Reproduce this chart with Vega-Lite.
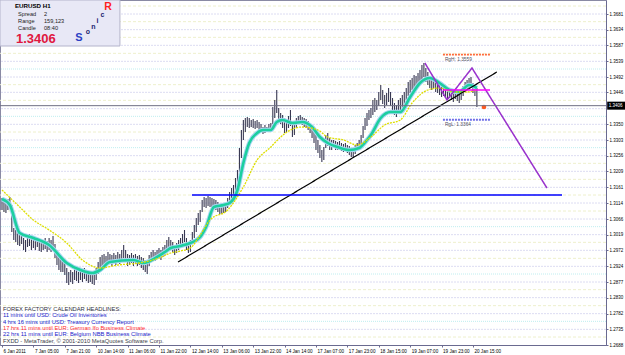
{
"$schema":"https://vega.github.io/schema/vega-lite/v6.json",
"width":606,"height":345,
"autosize":{"type":"none"},
"padding":{"left":0,"top":0,"right":19,"bottom":10},
"background":"white",
"config":{"view":{"stroke":"#8a8aa4","strokeWidth":1},"font":"Liberation Sans",
 "axisY":{"orient":"right","title":null,"grid":false,"labelFontSize":4.5,"labelColor":"#000000","labelPadding":1,"tickSize":2,"tickColor":"#6a6a90","domainColor":"#6a6a90","labelAlign":"left","labelBaseline":"middle","labelFlush":false,"labelOverlap":false},
 "axisX":{"title":null,"grid":false,"labelFontSize":4.6,"labelColor":"#000000","labelAlign":"left","labelPadding":1,"labelOffset":1,"tickSize":2,"tickColor":"#6a6a90","domainColor":"#6a6a90","labelFlush":false,"labelOverlap":false}},
"resolve":{"scale":{"color":"independent","strokeDash":"independent","strokeWidth":"independent"}},
"datasets":{
"grid":[
{"p":1.3705,"k":"b"},{"p":1.3681,"k":"a"},{"p":1.3658,"k":"b"},{"p":1.3634,"k":"a"},{"p":1.3611,"k":"b"},{"p":1.3587,"k":"a"},{"p":1.3563,"k":"b"},{"p":1.3539,"k":"a"},{"p":1.3516,"k":"c"},{"p":1.3492,"k":"a"},{"p":1.3469,"k":"b"},{"p":1.3446,"k":"a"},{"p":1.3422,"k":"b"},{"p":1.3397,"k":"a"},{"p":1.3374,"k":"c"},{"p":1.3350,"k":"a"},{"p":1.3327,"k":"b"},{"p":1.3303,"k":"a"},{"p":1.3280,"k":"c"},{"p":1.3256,"k":"a"},{"p":1.3233,"k":"b"},{"p":1.3209,"k":"a"},{"p":1.3185,"k":"b"},{"p":1.3161,"k":"a"},{"p":1.3138,"k":"b"},{"p":1.3114,"k":"a"},{"p":1.3090,"k":"b"},{"p":1.3066,"k":"a"},{"p":1.3043,"k":"c"},{"p":1.3019,"k":"a"},{"p":1.2996,"k":"b"},{"p":1.2972,"k":"a"},{"p":1.2948,"k":"b"},{"p":1.2924,"k":"a"},{"p":1.2901,"k":"c"},{"p":1.2877,"k":"a"},{"p":1.2854,"k":"b"},{"p":1.2830,"k":"a"},{"p":1.2806,"k":"b"},{"p":1.2782,"k":"a"},{"p":1.2759,"k":"c"},{"p":1.2735,"k":"a"},{"p":1.2712,"k":"b"}
],
"bars":[
{"i":0,"p":1.3129,"p2":1.3093},{"i":1,"p":1.3123,"p2":1.3087},{"i":2,"p":1.3117,"p2":1.3084},{"i":3,"p":1.3126,"p2":1.3093},{"i":4,"p":1.3132,"p2":1.3099},{"i":5,"p":1.3108,"p2":1.3027},{"i":6,"p":1.3039,"p2":1.3003},{"i":7,"p":1.3033,"p2":1.2997},{"i":8,"p":1.3027,"p2":1.2988},{"i":9,"p":1.3018,"p2":1.2985},
{"i":10,"p":1.3024,"p2":1.2991},{"i":11,"p":1.3009,"p2":1.2973},{"i":12,"p":1.3003,"p2":1.2967},{"i":13,"p":1.3015,"p2":1.2982},{"i":14,"p":1.3021,"p2":1.2985},{"i":15,"p":1.3009,"p2":1.2973},{"i":16,"p":1.3015,"p2":1.2979},{"i":17,"p":1.3003,"p2":1.2973},{"i":18,"p":1.3009,"p2":1.2982},{"i":19,"p":1.3003,"p2":1.2970},
{"i":20,"p":1.2997,"p2":1.2967},{"i":21,"p":1.3003,"p2":1.2973},{"i":22,"p":1.3009,"p2":1.2976},{"i":23,"p":1.3000,"p2":1.2967},{"i":24,"p":1.3009,"p2":1.2973},{"i":25,"p":1.3003,"p2":1.2967},{"i":26,"p":1.3015,"p2":1.2979},{"i":27,"p":1.2991,"p2":1.2949},{"i":28,"p":1.2973,"p2":1.2928},{"i":29,"p":1.2958,"p2":1.2913},
{"i":30,"p":1.2949,"p2":1.2907},{"i":31,"p":1.2943,"p2":1.2907},{"i":32,"p":1.2937,"p2":1.2898},{"i":33,"p":1.2919,"p2":1.2874},{"i":34,"p":1.2907,"p2":1.2868},{"i":35,"p":1.2913,"p2":1.2877},{"i":36,"p":1.2907,"p2":1.2871},{"i":37,"p":1.2919,"p2":1.2883},{"i":38,"p":1.2913,"p2":1.2880},{"i":39,"p":1.2907,"p2":1.2874},
{"i":40,"p":1.2913,"p2":1.2883},{"i":41,"p":1.2907,"p2":1.2877},{"i":42,"p":1.2919,"p2":1.2886},{"i":43,"p":1.2913,"p2":1.2880},{"i":44,"p":1.2907,"p2":1.2874},{"i":45,"p":1.2910,"p2":1.2877},{"i":46,"p":1.2904,"p2":1.2871},{"i":47,"p":1.2901,"p2":1.2868},{"i":48,"p":1.2919,"p2":1.2883},{"i":49,"p":1.2937,"p2":1.2901},
{"i":50,"p":1.2952,"p2":1.2919},{"i":51,"p":1.2958,"p2":1.2925},{"i":52,"p":1.2961,"p2":1.2928},{"i":53,"p":1.2955,"p2":1.2925},{"i":54,"p":1.2967,"p2":1.2937},{"i":55,"p":1.2961,"p2":1.2931},{"i":56,"p":1.2958,"p2":1.2925},{"i":57,"p":1.2964,"p2":1.2934},{"i":58,"p":1.2958,"p2":1.2928},{"i":59,"p":1.2967,"p2":1.2937},
{"i":60,"p":1.2961,"p2":1.2931},{"i":61,"p":1.2973,"p2":1.2943},{"i":62,"p":1.2988,"p2":1.2949},{"i":63,"p":1.2973,"p2":1.2937},{"i":64,"p":1.2961,"p2":1.2925},{"i":65,"p":1.2958,"p2":1.2928},{"i":66,"p":1.2964,"p2":1.2934},{"i":67,"p":1.2958,"p2":1.2925},{"i":68,"p":1.2961,"p2":1.2931},{"i":69,"p":1.2955,"p2":1.2925},
{"i":70,"p":1.2958,"p2":1.2928},{"i":71,"p":1.2952,"p2":1.2919},{"i":72,"p":1.2949,"p2":1.2913},{"i":73,"p":1.2943,"p2":1.2907},{"i":74,"p":1.2937,"p2":1.2901},{"i":75,"p":1.2958,"p2":1.2925},{"i":76,"p":1.2967,"p2":1.2937},{"i":77,"p":1.2973,"p2":1.2943},{"i":78,"p":1.2967,"p2":1.2940},{"i":79,"p":1.2973,"p2":1.2946},
{"i":80,"p":1.2979,"p2":1.2949},{"i":81,"p":1.2973,"p2":1.2943},{"i":82,"p":1.2982,"p2":1.2952},{"i":83,"p":1.2988,"p2":1.2958},{"i":84,"p":1.3003,"p2":1.2973},{"i":85,"p":1.3012,"p2":1.2979},{"i":86,"p":1.3003,"p2":1.2973},{"i":87,"p":1.2997,"p2":1.2967},{"i":88,"p":1.2988,"p2":1.2958},{"i":89,"p":1.2994,"p2":1.2964},
{"i":90,"p":1.3003,"p2":1.2973},{"i":91,"p":1.3009,"p2":1.2979},{"i":92,"p":1.3021,"p2":1.2988},{"i":93,"p":1.3033,"p2":1.2997},{"i":94,"p":1.3009,"p2":1.2973},{"i":95,"p":1.2997,"p2":1.2964},{"i":96,"p":1.3003,"p2":1.2967},{"i":97,"p":1.3027,"p2":1.2991},{"i":98,"p":1.3048,"p2":1.3009},{"i":99,"p":1.3069,"p2":1.3027},
{"i":100,"p":1.3084,"p2":1.3048},{"i":101,"p":1.3093,"p2":1.3057},{"i":102,"p":1.3123,"p2":1.3087},{"i":103,"p":1.3132,"p2":1.3102},{"i":104,"p":1.3129,"p2":1.3099},{"i":105,"p":1.3135,"p2":1.3105},{"i":106,"p":1.3132,"p2":1.3102},{"i":107,"p":1.3129,"p2":1.3099},{"i":108,"p":1.3126,"p2":1.3096},{"i":109,"p":1.3123,"p2":1.3093},
{"i":110,"p":1.3117,"p2":1.3087},{"i":111,"p":1.3108,"p2":1.3081},{"i":112,"p":1.3102,"p2":1.3081},{"i":113,"p":1.3108,"p2":1.3084},{"i":114,"p":1.3114,"p2":1.3087},{"i":115,"p":1.3129,"p2":1.3099},{"i":116,"p":1.3147,"p2":1.3117},{"i":117,"p":1.3159,"p2":1.3129},{"i":118,"p":1.3168,"p2":1.3132},{"i":119,"p":1.3189,"p2":1.3153},
{"i":120,"p":1.3213,"p2":1.3159},{"i":121,"p":1.3279,"p2":1.3198},{"i":122,"p":1.3333,"p2":1.3249},{"i":123,"p":1.3363,"p2":1.3303},{"i":124,"p":1.3369,"p2":1.3327},{"i":125,"p":1.3372,"p2":1.3342},{"i":126,"p":1.3369,"p2":1.3339},{"i":127,"p":1.3363,"p2":1.3342},{"i":128,"p":1.3366,"p2":1.3339},{"i":129,"p":1.3360,"p2":1.3336},
{"i":130,"p":1.3363,"p2":1.3339},{"i":131,"p":1.3357,"p2":1.3333},{"i":132,"p":1.3351,"p2":1.3327},{"i":133,"p":1.3342,"p2":1.3321},{"i":134,"p":1.3348,"p2":1.3324},{"i":135,"p":1.3342,"p2":1.3327},{"i":136,"p":1.3351,"p2":1.3330},{"i":137,"p":1.3354,"p2":1.3333},{"i":138,"p":1.3402,"p2":1.3351},{"i":139,"p":1.3423,"p2":1.3369},
{"i":140,"p":1.3453,"p2":1.3384},{"i":141,"p":1.3399,"p2":1.3357},{"i":142,"p":1.3384,"p2":1.3351},{"i":143,"p":1.3378,"p2":1.3339},{"i":144,"p":1.3369,"p2":1.3324},{"i":145,"p":1.3363,"p2":1.3327},{"i":146,"p":1.3375,"p2":1.3339},{"i":147,"p":1.3393,"p2":1.3345},{"i":148,"p":1.3354,"p2":1.3312},{"i":149,"p":1.3357,"p2":1.3318},
{"i":150,"p":1.3369,"p2":1.3339},{"i":151,"p":1.3375,"p2":1.3351},{"i":152,"p":1.3378,"p2":1.3354},{"i":153,"p":1.3372,"p2":1.3348},{"i":154,"p":1.3369,"p2":1.3342},{"i":155,"p":1.3366,"p2":1.3339},{"i":156,"p":1.3360,"p2":1.3333},{"i":157,"p":1.3351,"p2":1.3324},{"i":158,"p":1.3342,"p2":1.3309},{"i":159,"p":1.3333,"p2":1.3294},
{"i":160,"p":1.3318,"p2":1.3273},{"i":161,"p":1.3303,"p2":1.3264},{"i":162,"p":1.3288,"p2":1.3249},{"i":163,"p":1.3273,"p2":1.3237},{"i":164,"p":1.3282,"p2":1.3243},{"i":165,"p":1.3318,"p2":1.3279},{"i":166,"p":1.3324,"p2":1.3285},{"i":167,"p":1.3309,"p2":1.3273},{"i":168,"p":1.3303,"p2":1.3273},{"i":169,"p":1.3303,"p2":1.3279},
{"i":170,"p":1.3300,"p2":1.3273},{"i":171,"p":1.3297,"p2":1.3273},{"i":172,"p":1.3300,"p2":1.3276},{"i":173,"p":1.3294,"p2":1.3270},{"i":174,"p":1.3291,"p2":1.3267},{"i":175,"p":1.3294,"p2":1.3270},{"i":176,"p":1.3288,"p2":1.3264},{"i":177,"p":1.3285,"p2":1.3258},{"i":178,"p":1.3279,"p2":1.3252},{"i":179,"p":1.3279,"p2":1.3249},
{"i":180,"p":1.3288,"p2":1.3261},{"i":181,"p":1.3294,"p2":1.3270},{"i":182,"p":1.3303,"p2":1.3276},{"i":183,"p":1.3318,"p2":1.3288},{"i":184,"p":1.3345,"p2":1.3309},{"i":185,"p":1.3369,"p2":1.3333},{"i":186,"p":1.3384,"p2":1.3345},{"i":187,"p":1.3393,"p2":1.3363},{"i":188,"p":1.3399,"p2":1.3369},{"i":189,"p":1.3423,"p2":1.3378},
{"i":190,"p":1.3429,"p2":1.3387},{"i":191,"p":1.3423,"p2":1.3393},{"i":192,"p":1.3447,"p2":1.3405},{"i":193,"p":1.3468,"p2":1.3423},{"i":194,"p":1.3453,"p2":1.3411},{"i":195,"p":1.3438,"p2":1.3399},{"i":196,"p":1.3444,"p2":1.3408},{"i":197,"p":1.3459,"p2":1.3417},{"i":198,"p":1.3447,"p2":1.3405},{"i":199,"p":1.3429,"p2":1.3393},
{"i":200,"p":1.3414,"p2":1.3378},{"i":201,"p":1.3408,"p2":1.3372},{"i":202,"p":1.3423,"p2":1.3381},{"i":203,"p":1.3429,"p2":1.3387},{"i":204,"p":1.3438,"p2":1.3399},{"i":205,"p":1.3447,"p2":1.3408},{"i":206,"p":1.3459,"p2":1.3423},{"i":207,"p":1.3477,"p2":1.3435},{"i":208,"p":1.3483,"p2":1.3444},{"i":209,"p":1.3489,"p2":1.3453},
{"i":210,"p":1.3498,"p2":1.3459},{"i":211,"p":1.3495,"p2":1.3453},{"i":212,"p":1.3504,"p2":1.3465},{"i":213,"p":1.3513,"p2":1.3468},{"i":214,"p":1.3528,"p2":1.3483},{"i":215,"p":1.3534,"p2":1.3492},{"i":216,"p":1.3519,"p2":1.3477},{"i":217,"p":1.3507,"p2":1.3468},{"i":218,"p":1.3495,"p2":1.3459},{"i":219,"p":1.3489,"p2":1.3453},
{"i":220,"p":1.3492,"p2":1.3459},{"i":221,"p":1.3483,"p2":1.3447},{"i":222,"p":1.3477,"p2":1.3444},{"i":223,"p":1.3471,"p2":1.3438},{"i":224,"p":1.3465,"p2":1.3432},{"i":225,"p":1.3468,"p2":1.3435},{"i":226,"p":1.3459,"p2":1.3429},{"i":227,"p":1.3453,"p2":1.3423},{"i":228,"p":1.3459,"p2":1.3429},{"i":229,"p":1.3453,"p2":1.3423},
{"i":230,"p":1.3447,"p2":1.3417},{"i":231,"p":1.3453,"p2":1.3426},{"i":232,"p":1.3450,"p2":1.3420},{"i":233,"p":1.3444,"p2":1.3414},{"i":234,"p":1.3453,"p2":1.3423},{"i":235,"p":1.3465,"p2":1.3435},{"i":236,"p":1.3477,"p2":1.3447},{"i":237,"p":1.3483,"p2":1.3453},{"i":238,"p":1.3489,"p2":1.3459},{"i":239,"p":1.3492,"p2":1.3462},
{"i":240,"p":1.3474,"p2":1.3444},{"i":241,"p":1.3465,"p2":1.3435},{"i":242,"p":1.3459,"p2":1.3402}
],
"ma":[
{"s":"t","i":0,"p":1.3126},{"s":"t","i":4,"p":1.3108},{"s":"t","i":9,"p":1.3024},{"s":"t","i":16,"p":1.3009},{"s":"t","i":24,"p":1.2988},{"s":"t","i":33,"p":1.2934},{"s":"t","i":40,"p":1.2913},{"s":"t","i":46,"p":1.2904},{"s":"t","i":50,"p":1.2913},{"s":"t","i":55,"p":1.2937},{"s":"t","i":67,"p":1.2943},{"s":"t","i":72,"p":1.2934},{"s":"t","i":79,"p":1.2952},{"s":"t","i":83,"p":1.2967},{"s":"t","i":86,"p":1.2979},{"s":"t","i":91,"p":1.2985},{"s":"t","i":96,"p":1.2994},{"s":"t","i":101,"p":1.3012},{"s":"t","i":104,"p":1.3042},{"s":"t","i":108,"p":1.3102},{"s":"t","i":113,"p":1.3108},{"s":"t","i":116,"p":1.3114},{"s":"t","i":120,"p":1.3153},{"s":"t","i":123,"p":1.3234},{"s":"t","i":126,"p":1.3294},{"s":"t","i":130,"p":1.3324},{"s":"t","i":133,"p":1.3333},{"s":"t","i":137,"p":1.3333},{"s":"t","i":140,"p":1.3357},{"s":"t","i":143,"p":1.3363},{"s":"t","i":148,"p":1.3354},{"s":"t","i":153,"p":1.3357},{"s":"t","i":158,"p":1.3342},{"s":"t","i":162,"p":1.3312},{"s":"t","i":166,"p":1.3294},{"s":"t","i":171,"p":1.3282},{"s":"t","i":177,"p":1.3273},{"s":"t","i":182,"p":1.3279},{"s":"t","i":186,"p":1.3303},{"s":"t","i":188,"p":1.3318},{"s":"t","i":193,"p":1.3369},{"s":"t","i":198,"p":1.3387},{"s":"t","i":203,"p":1.3387},{"s":"t","i":208,"p":1.3432},{"s":"t","i":213,"p":1.3474},{"s":"t","i":218,"p":1.3489},{"s":"t","i":223,"p":1.3474},{"s":"t","i":228,"p":1.3453},{"s":"t","i":233,"p":1.3447},{"s":"t","i":238,"p":1.3468},{"s":"t","i":242,"p":1.3459},
{"s":"y","i":0,"p":1.3153},{"s":"y","i":9,"p":1.3102},{"s":"y","i":16,"p":1.3063},{"s":"y","i":24,"p":1.3033},{"s":"y","i":33,"p":1.2994},{"s":"y","i":41,"p":1.2943},{"s":"y","i":50,"p":1.2919},{"s":"y","i":59,"p":1.2928},{"s":"y","i":70,"p":1.2934},{"s":"y","i":80,"p":1.2949},{"s":"y","i":86,"p":1.2964},{"s":"y","i":91,"p":1.2970},{"s":"y","i":96,"p":1.2979},{"s":"y","i":101,"p":1.3018},{"s":"y","i":106,"p":1.3063},{"s":"y","i":115,"p":1.3093},{"s":"y","i":123,"p":1.3162},{"s":"y","i":130,"p":1.3243},{"s":"y","i":137,"p":1.3282},{"s":"y","i":142,"p":1.3312},{"s":"y","i":147,"p":1.3333},{"s":"y","i":153,"p":1.3342},{"s":"y","i":161,"p":1.3333},{"s":"y","i":166,"p":1.3312},{"s":"y","i":174,"p":1.3303},{"s":"y","i":181,"p":1.3288},{"s":"y","i":188,"p":1.3312},{"s":"y","i":195,"p":1.3348},{"s":"y","i":203,"p":1.3363},{"s":"y","i":209,"p":1.3414},{"s":"y","i":217,"p":1.3453},{"s":"y","i":223,"p":1.3459},{"s":"y","i":230,"p":1.3447},{"s":"y","i":237,"p":1.3447},{"s":"y","i":242,"p":1.3453}
],
"lines":[
{"g":"trend","i":89.7,"p":1.2937},{"g":"trend","i":252.2,"p":1.3507},
{"g":"blue","i":96.8,"p":1.3138},{"g":"blue","i":285.4,"p":1.3138},
{"g":"purple","i":215.5,"p":1.3534},{"g":"purple","i":226.8,"p":1.3423},{"g":"purple","i":239.5,"p":1.3519},{"g":"purple","i":277.7,"p":1.3159},
{"g":"magenta","i":224.7,"p":1.3453},{"g":"magenta","i":248.7,"p":1.3453},
{"g":"rgh","i":224.7,"p":1.3559},{"g":"rgh","i":248.7,"p":1.3559},
{"g":"rgl","i":224.7,"p":1.3364},{"g":"rgl","i":248.7,"p":1.3364}
],
"notes":[
{"k":"title","i":6.6,"p":1.3705,"t":"EURUSD   H1"},
{"k":"info","i":8.2,"p":1.3681,"t":"Spread"},{"k":"info","i":21.4,"p":1.3681,"t":"2"},
{"k":"info","i":8.2,"p":1.3660,"t":"Range"},{"k":"info","i":21.4,"p":1.3660,"t":"159,123"},
{"k":"info","i":8.2,"p":1.3639,"t":"Candle"},{"k":"info","i":21.4,"p":1.3639,"t":"08:40"},
{"k":"big","i":7.1,"p":1.3606,"t":"1.3406"},
{"k":"S","i":39.2,"p":1.3609,"t":"S"},
{"k":"sonic","i":43.8,"p":1.3627,"t":"o"},{"k":"sonic","i":46.6,"p":1.3643,"t":"n"},{"k":"sonic","i":48.6,"p":1.3660,"t":"i"},{"k":"sonic","i":51.2,"p":1.3678,"t":"c"},
{"k":"R","i":54.0,"p":1.3702,"t":"R"},
{"k":"ff","i":0.5,"p":1.2796,"t":"FOREX FACTORY CALENDAR  HEADLINES:"},
{"k":"blue","i":0.5,"p":1.2778,"t":"11 mins until USD: Crude Oil Inventories"},
{"k":"blue","i":0.5,"p":1.2757,"t":"4 hrs 16 mins until USD: Treasury Currency Report"},
{"k":"red","i":0.5,"p":1.2739,"t":"17 hrs 11 mins until EUR: German Ifo Business Climate"},
{"k":"blue","i":0.5,"p":1.2721,"t":"22 hrs 11 mins until EUR: Belgium NBB Business Climate"},
{"k":"copy","i":0.5,"p":1.2700,"t":"FXDD - MetaTrader, © 2001-2010 MetaQuotes Software Corp."},
{"k":"rg","i":225.7,"p":1.3543,"t":"RgH:  1.3559"},
{"k":"rg","i":225.7,"p":1.3348,"t":"RgL:  1.3364"},
{"k":"tag","i":309.2,"p":1.3406,"t":"1.3406"}
],
"boxes":[
{"k":"info","i":-1.02,"i2":60.1,"p":1.3723,"p2":1.3585},
{"k":"tag","i":308.4,"i2":320,"p":1.3418,"p2":1.3394}
],
"dot":[{"i":245.6,"p":1.3402}],
"cur":[{"p":1.3406}]
},
"encoding":{
  "y":{"field":"p","type":"quantitative","scale":{"domain":[1.2688,1.3723],"nice":false,"zero":false},
   "axis":{"values":[1.3681,1.3634,1.3587,1.3539,1.3492,1.3446,1.3350,1.3303,1.3256,1.3209,1.3161,1.3114,1.3066,1.3019,1.2972,1.2924,1.2877,1.2830,1.2782,1.2735,1.2688],
    "labelExpr":"format(datum.value,'.4f')"}}
},
"layer":[
{"data":{"name":"grid"},"mark":{"type":"rule","strokeWidth":1},
 "encoding":{
  "color":{"field":"k","type":"nominal","scale":{"domain":["a","b","c"],"range":["#dcdcf2","#eef0cc","#bfeef0"]},"legend":null},
  "strokeDash":{"field":"k","type":"nominal","scale":{"domain":["a","b","c"],"range":[[2,1],[3,2],[1,1]]},"legend":null}
 }},
{"encoding":{
  "x":{"field":"i","type":"quantitative","scale":{"domain":[-1.02,307.8],"nice":false,"zero":false},
   "axis":{"orient":"bottom","values":[0,16,32,48,64,80,96,112,128,144,160,176,192,208,224,240],
    "labelExpr":"['6 Jan 2011','7 Jan 05:00','7 Jan 21:00','10 Jan 14:00','11 Jan 06:00','11 Jan 22:00','12 Jan 14:00','13 Jan 06:00','13 Jan 22:00','14 Jan 14:00','17 Jan 07:00','17 Jan 23:00','18 Jan 15:00','19 Jan 07:00','19 Jan 23:00','20 Jan 15:00'][round(datum.value/16)]"}}
 },
 "layer":[
  {"data":{"name":"boxes"},"transform":[{"filter":"datum.k=='info'"}],"mark":{"type":"rect","fill":"#e8e8f6","stroke":"#b4b4cc","strokeWidth":1},
   "encoding":{"x2":{"field":"i2"},"y2":{"field":"p2"}}},
  {"data":{"name":"bars"},"mark":{"type":"rule","color":"#383852","strokeWidth":1.1},"encoding":{"y2":{"field":"p2"}}},
  {"data":{"name":"ma"},"transform":[{"filter":"datum.s=='t'"}],"mark":{"type":"line","color":"#a6d6f2","strokeWidth":4.6,"interpolate":"monotone"}},
  {"data":{"name":"ma"},"transform":[{"filter":"datum.s=='t'"}],"mark":{"type":"line","color":"#1ccf9f","strokeWidth":2.6,"interpolate":"monotone"}},
  {"data":{"name":"ma"},"transform":[{"filter":"datum.s=='y'"}],"mark":{"type":"line","color":"#dede00","strokeWidth":1.3,"strokeDash":[2,1],"interpolate":"monotone"}},
  {"data":{"name":"lines"},"mark":{"type":"line"},
   "encoding":{"detail":{"field":"g"},
    "color":{"field":"g","type":"nominal","scale":{"domain":["trend","blue","purple","magenta","rgh","rgl"],"range":["#000000","#0000ff","#9932cc","#ff00ff","#ff6a3a","#6f6fe8"]},"legend":null},
    "strokeWidth":{"field":"g","type":"nominal","scale":{"domain":["trend","blue","purple","magenta","rgh","rgl"],"range":[1.2,2,2,1.5,2,2]},"legend":null},
    "strokeDash":{"field":"g","type":"nominal","scale":{"domain":["trend","blue","purple","magenta","rgh","rgl"],"range":[[1,0],[1,0],[1,0],[1,0],[2,1],[2,1]]},"legend":null}}},
  {"data":{"name":"dot"},"mark":{"type":"point","filled":true,"color":"#ff5a1e","size":22,"opacity":1}},
  {"data":{"name":"boxes"},"transform":[{"filter":"datum.k=='tag'"}],"mark":{"type":"rect","fill":"#000000"},"encoding":{"x2":{"field":"i2"},"y2":{"field":"p2"}}},
  {"data":{"name":"notes"},"transform":[{"filter":"datum.k=='title'"}],"mark":{"type":"text","align":"left","baseline":"middle","fontSize":6.2,"fontWeight":"bold","color":"#000000"},"encoding":{"text":{"field":"t"}}},
  {"data":{"name":"notes"},"transform":[{"filter":"datum.k=='info'"}],"mark":{"type":"text","align":"left","baseline":"middle","fontSize":5.6,"color":"#222222"},"encoding":{"text":{"field":"t"}}},
  {"data":{"name":"notes"},"transform":[{"filter":"datum.k=='big'"}],"mark":{"type":"text","align":"left","baseline":"middle","fontSize":13,"fontWeight":"bold","color":"#e0173f"},"encoding":{"text":{"field":"t"}}},
  {"data":{"name":"notes"},"transform":[{"filter":"datum.k=='S'"}],"mark":{"type":"text","align":"center","baseline":"middle","fontSize":11,"fontWeight":"bold","color":"#2b3fc4"},"encoding":{"text":{"field":"t"}}},
  {"data":{"name":"notes"},"transform":[{"filter":"datum.k=='sonic'"}],"mark":{"type":"text","align":"center","baseline":"middle","fontSize":7,"fontWeight":"bold","color":"#1c2470"},"encoding":{"text":{"field":"t"}}},
  {"data":{"name":"notes"},"transform":[{"filter":"datum.k=='R'"}],"mark":{"type":"text","align":"center","baseline":"middle","fontSize":10.5,"fontWeight":"bold","color":"#ff1e1e"},"encoding":{"text":{"field":"t"}}},
  {"data":{"name":"notes"},"transform":[{"filter":"datum.k=='ff' || datum.k=='blue' || datum.k=='red' || datum.k=='copy'"}],"mark":{"type":"text","align":"left","baseline":"middle","fontSize":5.8},
   "encoding":{"text":{"field":"t"},"color":{"field":"k","type":"nominal","scale":{"domain":["ff","blue","red","copy"],"range":["#303040","#2323c8","#ff2e2e","#404048"]},"legend":null}}},
  {"data":{"name":"notes"},"transform":[{"filter":"datum.k=='rg'"}],"mark":{"type":"text","align":"left","baseline":"middle","fontSize":4.8,"color":"#505060"},"encoding":{"text":{"field":"t"}}},
  {"data":{"name":"notes"},"transform":[{"filter":"datum.k=='tag'"}],"mark":{"type":"text","align":"left","baseline":"middle","fontSize":4.5,"color":"#ffffff"},"encoding":{"text":{"field":"t"}}}
 ],
 "resolve":{"scale":{"color":"independent","strokeDash":"independent","strokeWidth":"independent"}}
},
{"data":{"name":"cur"},"mark":{"type":"rule","color":"#707084","strokeWidth":1}}
]
}
